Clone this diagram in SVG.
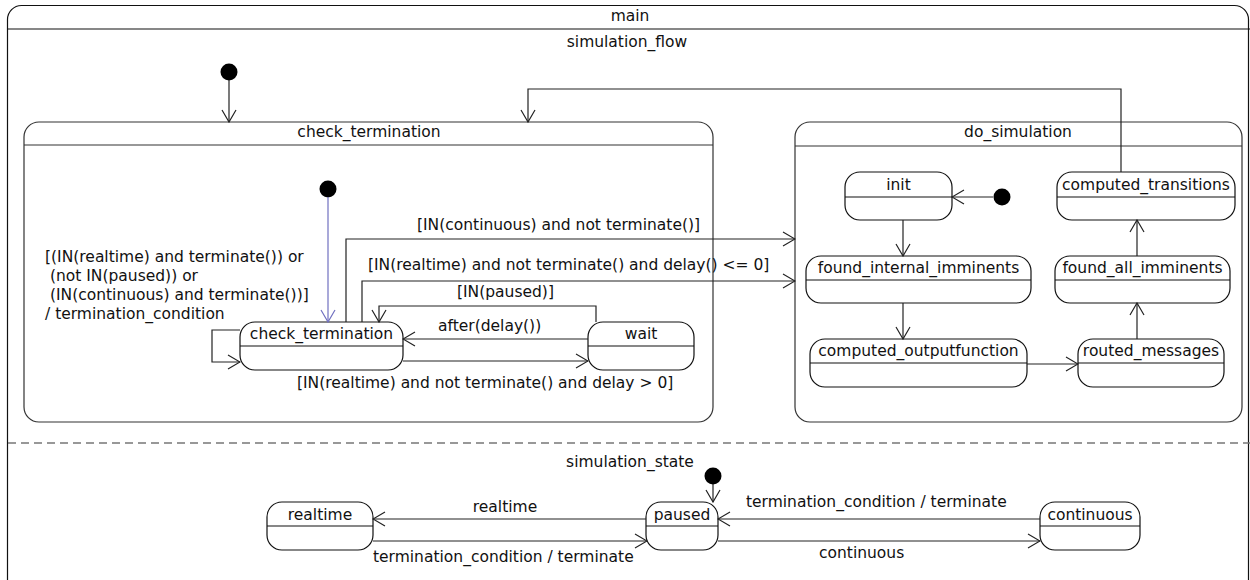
<svg xmlns="http://www.w3.org/2000/svg" width="1250" height="580" viewBox="0 0 1250 580">
<style>
text{font-family:"DejaVu Sans","Liberation Sans",sans-serif;font-size:15.5px;fill:#111}
.c{text-anchor:middle}
.comp{fill:#fff;stroke:#333;stroke-width:1.2}
.st{fill:#fff;stroke:#111;stroke-width:1.2}
.div{stroke:#111;stroke-width:1.2}
.conn path{fill:none;stroke:#222;stroke-width:1.2;marker-end:url(#arr)}
.conn path.blue{stroke:#7070c0;marker-end:url(#arrb)}
.dot{fill:#000}
</style>
<defs>
<marker id="arr" markerWidth="14" markerHeight="16" refX="13" refY="8" orient="auto" markerUnits="userSpaceOnUse"><path d="M1,1 L13,8 L1,15" fill="none" stroke="#222" stroke-width="1.2"/></marker>
<marker id="arrb" markerWidth="14" markerHeight="16" refX="13" refY="8" orient="auto" markerUnits="userSpaceOnUse"><path d="M1,1 L13,8 L1,15" fill="none" stroke="#7070c0" stroke-width="1.2"/></marker>
</defs>
<rect width="1250" height="580" fill="#fff"/>
<g id="main">
<rect x="7.5" y="5.5" width="1241" height="600" rx="14" fill="#fff" stroke="#111" stroke-width="1.2"/>
<line x1="7.5" y1="29" x2="1250" y2="29" stroke="#111" stroke-width="1.2"/>
<text class="c" x="630" y="21">main</text>
<text class="c" x="627" y="47">simulation_flow</text>
<line x1="8" y1="443" x2="1250" y2="443" stroke="#777" stroke-width="1.5" stroke-dasharray="8,5"/>
<text class="c" x="630" y="467">simulation_state</text>
</g>
<g id="init_flow"><circle class="dot" cx="229" cy="72" r="8.5"/></g>
<g id="check_termination_composite">
<rect class="comp" x="24" y="122" width="689" height="300" rx="15"/>
<line x1="24" y1="145" x2="713" y2="145" stroke="#333" stroke-width="1.2"/>
<text class="c" x="369" y="137">check_termination</text>
</g>
<g id="init_check"><circle class="dot" cx="328" cy="189" r="8.5"/></g>
<g id="check_termination">
<rect class="st" x="240" y="322" width="163" height="48" rx="15"/>
<line class="div" x1="240" y1="346" x2="403" y2="346"/>
<text class="c" x="321.5" y="339">check_termination</text>
</g>
<g id="wait">
<rect class="st" x="588" y="322" width="106" height="48" rx="15"/>
<line class="div" x1="588" y1="346" x2="694" y2="346"/>
<text class="c" x="641" y="339">wait</text>
</g>
<g id="do_simulation">
<rect class="comp" x="795" y="122" width="447" height="300" rx="15"/>
<line x1="795" y1="146" x2="1242" y2="146" stroke="#333" stroke-width="1.2"/>
<text class="c" x="1018" y="137">do_simulation</text>
</g>
<g id="init_dosim"><circle class="dot" cx="1002" cy="197" r="8.5"/></g>
<g id="init">
<rect class="st" x="845" y="172" width="107" height="48" rx="15"/>
<line class="div" x1="845" y1="197" x2="952" y2="197"/>
<text class="c" x="898.5" y="190">init</text>
</g>
<g id="computed_transitions">
<rect class="st" x="1057" y="172" width="178" height="48" rx="15"/>
<line class="div" x1="1057" y1="197" x2="1235" y2="197"/>
<text class="c" x="1146" y="190">computed_transitions</text>
</g>
<g id="found_internal_imminents">
<rect class="st" x="806" y="256" width="225" height="47" rx="15"/>
<line class="div" x1="806" y1="280" x2="1031" y2="280"/>
<text class="c" x="918.5" y="273">found_internal_imminents</text>
</g>
<g id="found_all_imminents">
<rect class="st" x="1055" y="256" width="175" height="47" rx="15"/>
<line class="div" x1="1055" y1="280" x2="1230" y2="280"/>
<text class="c" x="1142.5" y="273">found_all_imminents</text>
</g>
<g id="computed_outputfunction">
<rect class="st" x="810" y="339" width="217" height="48" rx="15"/>
<line class="div" x1="810" y1="363" x2="1027" y2="363"/>
<text class="c" x="918.5" y="356">computed_outputfunction</text>
</g>
<g id="routed_messages">
<rect class="st" x="1078" y="339" width="146" height="48" rx="15"/>
<line class="div" x1="1078" y1="363" x2="1224" y2="363"/>
<text class="c" x="1151" y="356">routed_messages</text>
</g>
<g id="init_state"><circle class="dot" cx="713" cy="476" r="8.5"/></g>
<g id="realtime">
<rect class="st" x="267" y="502" width="106" height="48" rx="15"/>
<line class="div" x1="267" y1="526" x2="373" y2="526"/>
<text class="c" x="320" y="520">realtime</text>
</g>
<g id="paused">
<rect class="st" x="646" y="502" width="72" height="48" rx="15"/>
<line class="div" x1="646" y1="526" x2="718" y2="526"/>
<text class="c" x="682" y="520">paused</text>
</g>
<g id="continuous">
<rect class="st" x="1040" y="502" width="100" height="48" rx="15"/>
<line class="div" x1="1040" y1="526" x2="1140" y2="526"/>
<text class="c" x="1090" y="520">continuous</text>
</g>
<g id="connectors" class="conn">
<path d="M229,80 V122"/>
<path class="blue" d="M328,197 V322"/>
<path d="M240,330 H212 V362 H240"/>
<path d="M346,322 V239 H795"/>
<path d="M362,322 V281 H795"/>
<path d="M596,322 V306 H379 V322"/>
<path d="M588,339 H403"/>
<path d="M403,361 H588"/>
<path d="M1121,172 V89 H528 V122"/>
<path d="M993,197 H952"/>
<path d="M903,220 V256"/>
<path d="M903,303 V339"/>
<path d="M1027,364 H1078"/>
<path d="M1137,339 V303"/>
<path d="M1137,256 V220"/>
<path d="M713,484 V502"/>
<path d="M646,519 H373"/>
<path d="M373,541 H647"/>
<path d="M1040,519 H718"/>
<path d="M718,541 H1040"/>
</g>
<g id="labels">
<text xml:space="preserve" x="45" y="262">[(IN(realtime) and terminate()) or</text>
<text xml:space="preserve" x="45" y="281"> (not IN(paused)) or</text>
<text xml:space="preserve" x="45" y="300"> (IN(continuous) and terminate())]</text>
<text x="45" y="319">/ termination_condition</text>
<text x="417" y="230">[IN(continuous) and not terminate()]</text>
<text x="368" y="270">[IN(realtime) and not terminate() and delay() &lt;= 0]</text>
<text x="457" y="297">[IN(paused)]</text>
<text x="438" y="331">after(delay())</text>
<text x="297" y="388">[IN(realtime) and not terminate() and delay &gt; 0]</text>
<text class="c" x="505" y="512">realtime</text>
<text x="373" y="562">termination_condition / terminate</text>
<text x="746" y="507">termination_condition / terminate</text>
<text x="819" y="558">continuous</text>
</g>
</svg>
